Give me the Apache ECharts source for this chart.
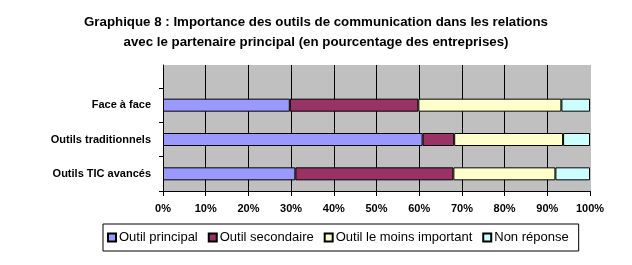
<!DOCTYPE html>
<html><head><meta charset="utf-8">
<script src="https://cdn.jsdelivr.net/npm/echarts@6/dist/echarts.min.js"></script>
<style>html,body{margin:0;padding:0;background:#fff}#c{width:632px;height:265px}</style>
</head><body><div id="c"></div>
<script>
const categories = ['Face à face', 'Outils traditionnels', 'Outils TIC avancés'];
const outilPrincipal = [29.7, 60.8, 31.0];
const outilSecondaire = [30.1, 7.4, 37.0];
const outilMoinsImportant = [33.5, 25.5, 23.9];
const nonReponse = [6.7, 6.3, 8.1];
const seriesNames = ['Outil principal', 'Outil secondaire', 'Outil le moins important', 'Non réponse'];
const tickValues = [0,10,20,30,40,50,60,70,80,90,100];

const colors = ['#9999FF', '#993366', '#FFFFCC', '#CCFFFF'];
const FONT = 'Liberation Sans, Arial, sans-serif';
const splitColors = tickValues.map((v,i)=> i === tickValues.length-1 ? '#C0C0C0' : '#000');

const chart = echarts.init(document.getElementById('c'), null, {renderer:'canvas'});
const dataSets = [outilPrincipal, outilSecondaire, outilMoinsImportant, nonReponse];
chart.setOption({
  animation: false,
  title: {
    text: 'Graphique 8 : Importance des outils de communication dans les relations\navec le partenaire principal (en pourcentage des entreprises)',
    left: 'center', top: 7,
    textStyle: {fontFamily: FONT, fontSize: 13.3, fontWeight: 'bold', color: '#000', lineHeight: 20, align: 'center'}
  },
  grid: [
    {left: 163, right: 42, top: 88, bottom: 74, show: true, backgroundColor: '#C0C0C0', borderWidth: 0},
    {left: 163, right: 42, top: 65, height: 23, show: true, backgroundColor: '#C0C0C0', borderWidth: 0}
  ],
  xAxis: [
    {type: 'value', gridIndex: 0, min: 0, max: 100, interval: 10,
     axisLine: {show: true, lineStyle: {color: '#000', width: 1}},
     axisTick: {show: true, length: 5, lineStyle: {color: '#000'}},
     axisLabel: {formatter: '{value}%', fontFamily: FONT, fontSize: 11, fontWeight: 'bold', color: '#000', margin: 12},
     splitLine: {show: true, lineStyle: {color: splitColors, width: 1}}},
    {type: 'value', gridIndex: 1, min: 0, max: 100, interval: 10,
     axisLine: {show: false}, axisTick: {show: false}, axisLabel: {show: false},
     splitLine: {show: true, lineStyle: {color: splitColors, width: 1}}}
  ],
  yAxis: [
    {type: 'category', gridIndex: 0, data: categories, inverse: true,
     axisLine: {show: true, lineStyle: {color: '#000', width: 1}},
     axisTick: {show: true, length: 4, lineStyle: {color: '#000'}},
     axisLabel: {fontFamily: FONT, fontSize: 11, fontWeight: 'bold', color: '#000', margin: 12},
     splitLine: {show: false}},
    {type: 'category', gridIndex: 1, data: [''],
     axisLine: {show: true, lineStyle: {color: '#000', width: 1}},
     axisTick: {show: false}, axisLabel: {show: false}, splitLine: {show: false}}
  ],
  legend: {
    left: 103, top: 224,
    data: seriesNames,
    icon: 'rect', itemWidth: 8, itemHeight: 8, itemGap: 10,
    borderColor: '#000', borderWidth: 1, padding: [7, 10, 7, 4],
    textStyle: {fontFamily: FONT, fontSize: 13, color: '#000', padding: [0,0,0,-2]}
  },
  series: dataSets.map((d, i) => ({
    name: seriesNames[i], type: 'bar', stack: 'total', xAxisIndex: 0, yAxisIndex: 0,
    data: d, barWidth: 13,
    itemStyle: {color: colors[i], borderColor: '#000', borderWidth: 1}
  }))
});
</script></body></html>
